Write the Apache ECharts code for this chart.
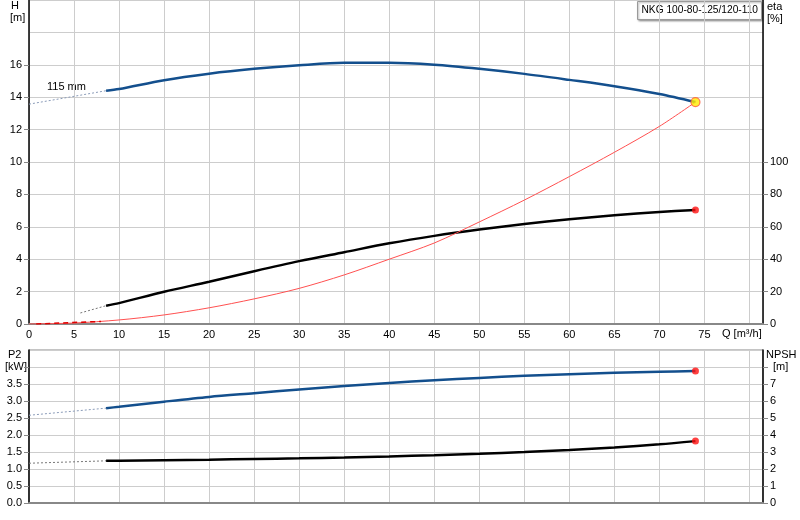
<!DOCTYPE html>
<html><head><meta charset="utf-8">
<script src="https://cdn.jsdelivr.net/npm/echarts@6/dist/echarts.min.js"></script>
<style>html,body{margin:0;padding:0;background:#fff}#c{width:800px;height:520px}</style>
</head><body><div id="c"></div>
<script>
// ---- data ----
const title = 'NKG 100-80-125/120-110';
const impeller = '115 mm';
const qTicks = [0,5,10,15,20,25,30,35,40,45,50,55,60,65,70,75];
const hTicks = [0,2,4,6,8,10,12,14,16];
const etaTicks = [0,20,40,60,80,100];
const p2Ticks = [0,0.5,1,1.5,2,2.5,3,3.5];
const npshTicks = [0,1,2,3,4,5,6,7];

const qCurve = [8.56,10,15,20,25,30,35,40,45,50,55,60,65,70,74];
const hCurve = [14.4,14.5,15.05,15.45,15.75,15.97,16.12,16.12,16.0,15.75,15.44,15.07,14.68,14.2,13.7];
const hDashQ = [0,8.56];
const hDash = [13.57,14.4];
const etaCurve = [11.3,12.9,19.9,26.1,32.6,38.8,44.3,49.8,54.4,58.3,61.7,64.6,67.1,69.1,70.4];
const etaDashQ = [5.7,8.56];
const etaDash = [6.8,11.3];
const qSys = [0,5,10,15,20,25,30,35,40,45,50,55,60,65,70,74];
const hSys = [0,0.06,0.25,0.56,1.0,1.55,2.2,3.03,4.0,5.0,6.3,7.65,9.1,10.6,12.2,13.7];
const qSysStart = [0.8,8];
const hSysStart = [0.0,0.16];
const p2Curve = [2.79,2.83,2.98,3.12,3.23,3.34,3.44,3.53,3.61,3.68,3.74,3.79,3.83,3.86,3.88];
const p2DashQ = [0,8.56];
const p2Dash = [2.58,2.79];
const npshCurve = [2.48,2.49,2.52,2.55,2.59,2.63,2.68,2.74,2.81,2.9,3.0,3.12,3.27,3.45,3.64];
const npshDashQ = [0,8.56];
const npshDash = [2.34,2.48];

const pairs = (xs, ys) => xs.map((x,i)=>[x, ys[i]]);
const last = (xs, ys) => [[xs[xs.length-1], ys[ys.length-1]]];

const FONT = 'Liberation Sans, Arial, sans-serif';
const BLUE = '#134f8d';
const GRID = '#cdcdcd';
const lbl = {color:'#000', fontFamily: FONT, fontSize: 11};

const chart = echarts.init(document.getElementById('c'), null, {renderer:'canvas'});

function gridAxis(gi, max, interval, pos){
  return {type:'value', gridIndex:gi, min:0, max:max, interval:interval, position:pos,
    axisLine:{show:false}, axisTick:{show:false}, axisLabel:{show:false},
    splitLine:{show:true, lineStyle:{color:GRID, width:1}}, z:0};
}

const option = {
  animation:false,
  textStyle:{fontFamily:FONT},
  grid:[
    {left:29, right:37, top:0, height:324},
    {left:29, right:37, top:350, height:153, show:true, borderColor:'#888', borderWidth:1, backgroundColor:'transparent'}
  ],
  xAxis:[
    {type:'value', gridIndex:0, min:0, max:81.5, interval:5,
      axisLine:{lineStyle:{color:'#888', width:2}}, axisTick:{show:false},
      axisLabel:Object.assign({margin:5, customValues:qTicks, formatter:v=>String(v)}, lbl),
      splitLine:{show:true, lineStyle:{color:GRID}}},
    {type:'value', gridIndex:1, min:0, max:81.5, interval:5,
      axisLine:{lineStyle:{color:'#888', width:2}}, axisTick:{show:false},
      axisLabel:{show:false},
      splitLine:{show:true, lineStyle:{color:GRID}}}
  ],
  yAxis:[
    {type:'value', gridIndex:0, min:0, max:20, interval:2, position:'left',
      axisLine:{show:true, lineStyle:{color:'#000', width:1.5}},
      axisTick:{show:true, length:5, customValues:hTicks, lineStyle:{color:'#888'}},
      axisLabel:Object.assign({margin:7, customValues:hTicks}, lbl),
      splitLine:{show:false}},
    {type:'value', gridIndex:0, min:0, max:200, interval:20, position:'right',
      axisLine:{show:true, lineStyle:{color:'#000', width:1.5}},
      axisTick:{show:true, length:5, customValues:etaTicks, lineStyle:{color:'#888'}},
      axisLabel:Object.assign({margin:7, customValues:etaTicks}, lbl),
      splitLine:{show:false}},
    gridAxis(0, 20, 2, 'left'),
    {type:'value', gridIndex:1, min:0, max:4.5, interval:0.5, position:'left',
      axisLine:{show:true, lineStyle:{color:'#000', width:1.5}},
      axisTick:{show:true, length:5, customValues:[0,0.5,1,1.5,2,2.5,3,3.5,4], lineStyle:{color:'#888'}},
      axisLabel:Object.assign({margin:7, customValues:p2Ticks, formatter:v=>v.toFixed(1)}, lbl),
      splitLine:{show:false}},
    {type:'value', gridIndex:1, min:0, max:9, interval:1, position:'right',
      axisLine:{show:true, lineStyle:{color:'#000', width:1.5}},
      axisTick:{show:true, length:5, customValues:[0,1,2,3,4,5,6,7,8], lineStyle:{color:'#888'}},
      axisLabel:Object.assign({margin:7, customValues:npshTicks}, lbl),
      splitLine:{show:false}},
    gridAxis(1, 4.5, 0.5, 'left')
  ],
  series:[
    {type:'line', xAxisIndex:0, yAxisIndex:0, data:pairs(hDashQ,hDash), symbol:'none',
      lineStyle:{color:'#8a9bb8', width:1, type:[2,2]}},
    {type:'line', xAxisIndex:0, yAxisIndex:0, data:pairs(qCurve,hCurve), symbol:'none', smooth:0.3,
      lineStyle:{color:BLUE, width:2.5}},
    {type:'line', xAxisIndex:0, yAxisIndex:1, data:pairs(etaDashQ,etaDash), symbol:'none',
      lineStyle:{color:'#777', width:1, type:[2,2]}},
    {type:'line', xAxisIndex:0, yAxisIndex:1, data:pairs(qCurve,etaCurve), symbol:'none', smooth:0.3,
      lineStyle:{color:'#000', width:2.5}},
    {type:'line', xAxisIndex:0, yAxisIndex:0, data:pairs(qSys,hSys), symbol:'none', smooth:0.3,
      lineStyle:{color:'#ff5050', width:1}},
    {type:'line', xAxisIndex:0, yAxisIndex:0, data:pairs(qSysStart,hSysStart), symbol:'none',
      lineStyle:{color:'#e00000', width:1.5, type:[5,4]}},
    {type:'scatter', xAxisIndex:0, yAxisIndex:0, data:last(qCurve,hCurve), symbolSize:9,
      itemStyle:{color:'#ffee00', borderColor:'#ff5a3c', borderWidth:1.2}, z:5},
    {type:'scatter', xAxisIndex:0, yAxisIndex:1, data:last(qCurve,etaCurve), symbolSize:7,
      itemStyle:{color:'#ff1010'}, z:5},
    {type:'line', xAxisIndex:1, yAxisIndex:3, data:pairs(p2DashQ,p2Dash), symbol:'none',
      lineStyle:{color:'#8a9bb8', width:1, type:[2,2]}},
    {type:'line', xAxisIndex:1, yAxisIndex:3, data:pairs(qCurve,p2Curve), symbol:'none', smooth:0.3,
      lineStyle:{color:BLUE, width:2.5}},
    {type:'line', xAxisIndex:1, yAxisIndex:4, data:pairs(npshDashQ,npshDash), symbol:'none',
      lineStyle:{color:'#777', width:1, type:[2,2]}},
    {type:'line', xAxisIndex:1, yAxisIndex:4, data:pairs(qCurve,npshCurve), symbol:'none', smooth:0.3,
      lineStyle:{color:'#000', width:2.5}},
    {type:'scatter', xAxisIndex:1, yAxisIndex:3, data:last(qCurve,p2Curve), symbolSize:7,
      itemStyle:{color:'#ff1010'}, z:5},
    {type:'scatter', xAxisIndex:1, yAxisIndex:4, data:last(qCurve,npshCurve), symbolSize:7,
      itemStyle:{color:'#ff1010'}, z:5}
  ],
  graphic:[
    {type:'text', left:11, top:0, style:{text:'H', font:'11px '+FONT, fill:'#000'}},
    {type:'text', left:10, top:12, style:{text:'[m]', font:'11px '+FONT, fill:'#000'}},
    {type:'text', left:767, top:1, style:{text:'eta', font:'11px '+FONT, fill:'#000'}},
    {type:'text', left:767, top:13, style:{text:'[%]', font:'11px '+FONT, fill:'#000'}},
    {type:'text', left:8, top:349, style:{text:'P2', font:'11px '+FONT, fill:'#000'}},
    {type:'text', left:5, top:361, style:{text:'[kW]', font:'11px '+FONT, fill:'#000'}},
    {type:'text', left:766, top:349, style:{text:'NPSH', font:'11px '+FONT, fill:'#000'}},
    {type:'text', left:773, top:361, style:{text:'[m]', font:'11px '+FONT, fill:'#000'}},
    {type:'text', left:722, top:328, style:{text:'Q [m³/h]', font:'11px '+FONT, fill:'#000'}},
    {type:'text', left:47, top:81, style:{text:impeller, font:'11px '+FONT, fill:'#000'}},
    {type:'group', left:637, top:1, children:[
      {type:'rect', shape:{x:0,y:0,width:124,height:18},
        style:{fill:'#fff', stroke:'#9a9a9a', lineWidth:1, shadowBlur:2, shadowOffsetX:1, shadowOffsetY:1, shadowColor:'rgba(0,0,0,0.35)'}},
      {type:'text', x:4, y:3.5, style:{text:title, font:'10.2px '+FONT, fill:'#000'}}
    ]}
  ]
};
chart.setOption(option);
</script>
</body></html>
